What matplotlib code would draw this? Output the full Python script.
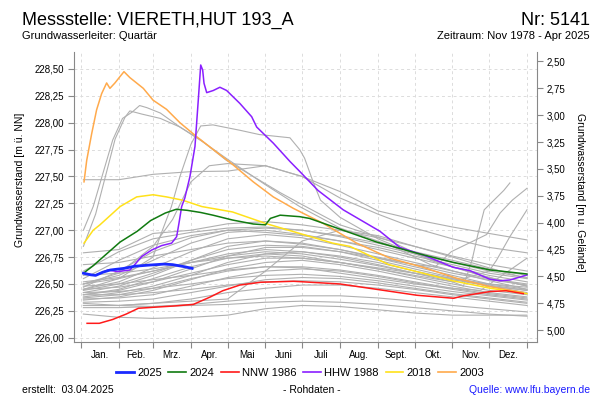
import matplotlib
matplotlib.use("Agg")
import matplotlib.pyplot as plt
from matplotlib.lines import Line2D
from matplotlib.ticker import FuncFormatter, FixedLocator

plt.rcParams['font.family'] = ['Liberation Sans', 'DejaVu Sans']

# ---------------- data ----------------
GROUND = 231.07  # Geländehöhe (m ü. NN) for the right axis

month_labels = ["Jan.", "Feb.", "Mrz.", "Apr.", "Mai", "Juni", "Juli",
                "Aug.", "Sept.", "Okt.", "Nov.", "Dez."]
month_starts = [0, 31, 59, 90, 120, 151, 181, 212, 243, 273, 304, 334, 365]

# colored highlight years (day of year, level m ü. NN)
y2025_days = [2, 8, 12, 18, 24, 35, 44, 55, 68, 75, 85, 91]
y2025_vals = [226.60, 226.585, 226.58, 226.61, 226.63, 226.645, 226.665,
              226.675, 226.685, 226.68, 226.66, 226.645]

y2024_days = [2, 10, 19, 32, 46, 57, 69, 78, 87, 98, 108, 124, 141, 151, 155,
              163, 179, 187, 212, 242, 275, 305, 335, 348, 365]
y2024_vals = [226.60, 226.67, 226.76, 226.89, 226.99, 227.09, 227.16, 227.195,
              227.185, 227.165, 227.14, 227.095, 227.058, 227.05, 227.11,
              227.14, 227.126, 227.11, 227.01, 226.89, 226.786, 226.70,
              226.63, 226.614, 226.593]

nnw1986_days = [5, 15, 26, 37, 47, 59, 76, 92, 106, 116, 130, 147, 174, 182,
                212, 242, 275, 305, 313, 335, 348, 362]
nnw1986_vals = [226.134, 226.134, 226.17, 226.22, 226.274, 226.283, 226.295,
                226.31, 226.38, 226.437, 226.49, 226.516, 226.525, 226.52,
                226.50, 226.45, 226.395, 226.367, 226.39, 226.43, 226.437,
                226.41]

hhw1988_days = [2.5, 11.5, 22, 30, 40, 44, 49.7, 57.9, 66, 74.2, 78.3, 80.2,
                82.4, 85, 89.2, 93.3, 96, 98, 99.6, 100.7, 102.9, 108.3, 113.7,
                119.2, 130, 139.7, 143.8, 157.4, 171, 179.2, 194, 214.6, 244.7,
                261, 280, 304.7, 318.3, 334.7, 343, 351, 365]
hhw1988_vals = [226.60, 226.58, 226.63, 226.615, 226.63, 226.68, 226.755,
                226.816, 226.857, 226.88, 226.94, 227.065, 227.22, 227.30,
                227.50, 227.78, 228.21, 228.537, 228.49, 228.367, 228.28,
                228.30, 228.33, 228.30, 228.18, 228.056, 227.96, 227.81,
                227.64, 227.545, 227.37, 227.19, 226.99, 226.84, 226.77,
                226.655, 226.624, 226.544, 226.53, 226.537, 226.584]

y2018_days = [2.5, 10, 15.5, 32, 45.6, 59, 70, 83, 99, 124, 152, 179, 206,
              220, 252, 280, 304, 335, 365]
y2018_vals = [226.88, 227.0, 227.05, 227.22, 227.31, 227.33, 227.31, 227.28,
              227.22, 227.17, 227.06, 226.97, 226.88, 226.85, 226.68, 226.60,
              226.53, 226.46, 226.41]

y2003_days = [2.5, 4.7, 8.8, 12.8, 16.9, 21, 23.7, 27.8, 32, 35.2, 40, 51, 59,
              70, 81, 94.7, 108.3, 124.6, 141, 157.4, 173.7, 198, 225.6,
              252.9, 280, 307.4, 334.7, 362]
y2003_vals = [227.45, 227.65, 227.90, 228.12, 228.27, 228.37, 228.32, 228.37,
              228.43, 228.475, 228.42, 228.32, 228.21, 228.125, 228.0, 227.87,
              227.75, 227.607, 227.45, 227.31, 227.204, 227.065, 226.88,
              226.74, 226.655, 226.553, 226.475, 226.42]

# other years (grey), monthly readings at grey_days
grey_days = [2, 31, 59, 90, 120, 151, 181, 212, 243, 273, 304, 334, 365]
grey_monthly = [
    [226.62, 226.80, 226.92, 226.98, 227.02, 227.03, 227.00, 226.95, 226.88, 226.80, 226.72, 226.64, 226.58],
    [226.55, 226.72, 226.86, 226.95, 227.00, 226.98, 226.95, 226.90, 226.84, 226.76, 226.68, 226.60, 226.55],
    [226.50, 226.58, 226.72, 226.88, 226.98, 227.00, 226.96, 226.90, 226.82, 226.74, 226.66, 226.58, 226.52],
    [226.45, 226.52, 226.65, 226.80, 226.92, 226.96, 226.93, 226.86, 226.78, 226.70, 226.62, 226.55, 226.50],
    [226.68, 226.70, 226.76, 226.82, 226.88, 226.90, 226.87, 226.82, 226.75, 226.68, 226.60, 226.54, 226.49],
    [226.42, 226.48, 226.58, 226.72, 226.85, 226.90, 226.88, 226.82, 226.74, 226.66, 226.58, 226.50, 226.45],
    [226.40, 226.44, 226.52, 226.64, 226.76, 226.84, 226.84, 226.80, 226.72, 226.64, 226.56, 226.49, 226.44],
    [226.52, 226.56, 226.62, 226.70, 226.78, 226.82, 226.80, 226.75, 226.68, 226.60, 226.54, 226.48, 226.44],
    [226.38, 226.42, 226.48, 226.58, 226.70, 226.78, 226.80, 226.76, 226.70, 226.62, 226.55, 226.48, 226.42],
    [226.45, 226.47, 226.52, 226.60, 226.68, 226.74, 226.74, 226.70, 226.64, 226.57, 226.50, 226.44, 226.40],
    [226.35, 226.38, 226.44, 226.54, 226.64, 226.70, 226.72, 226.68, 226.62, 226.55, 226.48, 226.42, 226.38],
    [226.48, 226.50, 226.54, 226.58, 226.63, 226.66, 226.66, 226.63, 226.58, 226.52, 226.46, 226.41, 226.37],
    [226.36, 226.37, 226.40, 226.48, 226.56, 226.62, 226.64, 226.62, 226.57, 226.51, 226.45, 226.40, 226.36],
    [226.42, 226.43, 226.46, 226.50, 226.55, 226.58, 226.59, 226.57, 226.53, 226.48, 226.43, 226.39, 226.35],
    [226.33, 226.34, 226.36, 226.42, 226.48, 226.54, 226.56, 226.55, 226.51, 226.46, 226.41, 226.37, 226.33],
    [226.40, 226.40, 226.42, 226.45, 226.49, 226.52, 226.53, 226.52, 226.49, 226.45, 226.40, 226.36, 226.32],
    [226.30, 226.30, 226.32, 226.36, 226.42, 226.46, 226.49, 226.49, 226.46, 226.42, 226.38, 226.34, 226.30],
    [226.28, 226.28, 226.29, 226.31, 226.34, 226.37, 226.39, 226.39, 226.37, 226.34, 226.30, 226.27, 226.24],
    [226.22, 226.19, 226.18, 226.19, 226.21, 226.27, 226.30, 226.29, 226.26, 226.23, 226.21, 226.21, 226.21],
    [226.32, 226.30, 226.29, 226.30, 226.31, 226.33, 226.34, 226.33, 226.31, 226.28, 226.25, 226.22, 226.20],
    [226.30, 226.30, 226.32, 226.34, 226.36, 226.62, 226.90, 227.00, 226.95, 226.85, 226.75, 226.65, 226.55],
    [226.79, 226.82, 226.97, 227.00, 227.06, 227.08, 227.05, 227.00, 226.93, 226.85, 226.76, 226.68, 226.62],
    [226.47, 226.62, 226.80, 226.93, 227.00, 227.02, 227.00, 226.94, 226.86, 226.78, 226.70, 226.62, 226.56],
    [226.58, 226.60, 226.64, 226.70, 226.74, 226.76, 226.74, 226.70, 226.65, 226.60, 226.55, 226.50, 226.47],
    [227.47, 227.47, 227.52, 227.545, 227.55, 227.60, 227.50, 227.36, 227.18, 227.10, 227.03, 226.97, 226.91],
]

grey_a_days = [2, 10, 18, 26, 34, 42, 48, 54, 65, 81, 98, 119, 141, 163, 179, 212, 253, 286, 327, 365]
grey_a_vals = [227.0, 227.22, 227.53, 227.84, 228.04, 228.10, 228.16, 228.14, 228.09, 227.96,
               227.84, 227.65, 227.50, 227.35, 227.25, 227.05, 226.90, 226.72, 226.58, 226.48]
grey_b_days = [2, 12, 20, 28, 36, 40, 50, 65, 81, 100, 120, 150, 179, 212, 253, 286, 327, 365]
grey_b_vals = [226.85, 227.15, 227.5, 227.85, 228.05, 228.11, 228.08, 228.04, 227.96, 227.82,
               227.66, 227.43, 227.22, 227.02, 226.86, 226.68, 226.55, 226.45]
grey_c_days = [2, 31, 59, 65, 74, 81, 90, 98, 108, 130, 146, 171, 179, 183, 190, 196, 212,
               243, 273, 304, 334, 365]
grey_c_vals = [226.45, 226.55, 226.75, 226.95, 227.22, 227.5, 227.8, 227.97, 227.98, 227.93,
               227.89, 227.86, 227.75, 227.67, 227.45, 227.28, 227.12, 226.92, 226.78, 226.66,
               226.56, 226.48]
grey_d_days = [2, 31, 59, 75, 90, 105, 120, 151, 181, 212, 243, 273, 304, 334, 365]
grey_d_vals = [226.5, 226.6, 226.85, 227.1, 227.45, 227.6, 227.62, 227.6, 227.5, 227.3,
               227.15, 227.02, 226.92, 226.84, 226.79]
grey_e_days = [2, 31, 59, 90, 120, 151, 181, 212, 243, 273, 304, 313, 320, 325, 330, 338, 346, 351]
grey_e_vals = [226.5, 226.55, 226.62, 226.7, 226.76, 226.8, 226.78, 226.73, 226.67, 226.6,
               226.52, 226.48, 226.72, 226.97, 227.19, 227.28, 227.37, 227.44]
grey_f_days = [2, 31, 59, 90, 120, 151, 181, 212, 243, 273, 290, 303, 332, 343, 353, 365]
grey_f_vals = [226.44, 226.5, 226.6, 226.72, 226.82, 226.86, 226.85, 226.8, 226.74, 226.68,
               226.66, 226.8, 226.96, 227.16, 227.28, 227.39]
grey_g_days = [2, 31, 59, 90, 120, 151, 181, 212, 243, 273, 304, 334, 340, 351, 365]
grey_g_vals = [226.4, 226.45, 226.55, 226.66, 226.74, 226.78, 226.76, 226.7, 226.64, 226.58,
               226.52, 226.62, 226.72, 226.94, 227.19]
grey_h_days = [2, 31, 59, 90, 120, 151, 181, 212, 243, 273, 304, 327, 365]
grey_h_vals = [226.37, 226.4, 226.46, 226.55, 226.62, 226.66, 226.65, 226.6, 226.55, 226.5,
               226.46, 226.44, 226.74]

# ---------------- figure ----------------
fig = plt.figure(figsize=(6, 4), dpi=100)
ax = fig.add_axes([74 / 600, 1 - 341.7 / 400, (537 - 74) / 600, (341.7 - 52) / 400])

GREY = '#b0b0b0'
for vals in grey_monthly:
    ax.plot(grey_days, vals, color=GREY, lw=0.8, zorder=2)
for d, v in [(grey_a_days, grey_a_vals), (grey_b_days, grey_b_vals),
             (grey_c_days, grey_c_vals), (grey_d_days, grey_d_vals),
             (grey_e_days, grey_e_vals), (grey_f_days, grey_f_vals),
             (grey_g_days, grey_g_vals), (grey_h_days, grey_h_vals)]:
    ax.plot(d, v, color=GREY, lw=0.8, zorder=2)

series = [
    ("2003", y2003_days, y2003_vals, '#ffaa4c', 1.1),
    ("2018", y2018_days, y2018_vals, '#ffe11a', 1.1),
    ("HHW 1988", hhw1988_days, hhw1988_vals, '#8a1fff', 1.1),
    ("NNW 1986", nnw1986_days, nnw1986_vals, '#ff1a1a', 1.1),
    ("2024", y2024_days, y2024_vals, '#107a10', 1.1),
    ("2025", y2025_days, y2025_vals, '#1a2aff', 2.0),
]
for lab, d, v, c, lw in series:
    ax.plot(d, v, color=c, lw=lw, zorder=3)

ylim = (225.963, 228.658)
ax.set_xlim(-5.7, 373.2)
ax.set_ylim(*ylim)

ax.set_yticks([226.0 + 0.25 * i for i in range(11)])
ax.yaxis.set_major_formatter(FuncFormatter(lambda v, p: f"{v:.2f}".replace('.', ',')))
ax.set_xticks(month_starts)
ax.set_xticklabels([])
mids = [(month_starts[i] + month_starts[i + 1]) / 2 for i in range(12)]
ax.xaxis.set_minor_locator(FixedLocator(mids))
ax.set_xticklabels(month_labels, minor=True)
ax.tick_params(axis='x', which='minor', length=0, pad=6, labelsize=7)
ax.tick_params(axis='x', which='major', length=4, color='#888888', direction='out')
ax.tick_params(axis='y', length=4, color='#888888', labelsize=7, pad=3)

ax.grid(True, which='major', color='#dcdcdc', lw=0.7, ls=(0, (3, 3)))
ax.set_axisbelow(True)

for s in ['top', 'right']:
    ax.spines[s].set_visible(False)
for s in ['left', 'bottom']:
    ax.spines[s].set_color('#888888')

ax2 = ax.twinx()
ax2.set_ylim(GROUND - ylim[0], GROUND - ylim[1])
ax2.set_yticks([2.5 + 0.25 * i for i in range(11)])
ax2.yaxis.set_major_formatter(FuncFormatter(lambda v, p: f"{v:.2f}".replace('.', ',')))
ax2.tick_params(axis='y', length=4, color='#888888', labelsize=7, pad=3)
for s in ['top', 'left', 'bottom']:
    ax2.spines[s].set_visible(False)
ax2.spines['right'].set_color('#888888')

# axis labels
fig.text(20 / 600, 1 - 180 / 400, "Grundwasserstand [m ü. NN]", rotation=90,
         ha='center', va='center', fontsize=7.5)
fig.text(580 / 600, 1 - 192 / 400, "Grundwasserstand [m u. Gelände]", rotation=270,
         ha='center', va='center', fontsize=7.5)

# header
fig.text(22 / 600, 1 - 25 / 400, "Messstelle: VIERETH,HUT 193_A", fontsize=13,
         ha='left', va='baseline')
fig.text(590 / 600, 1 - 25 / 400, "Nr: 5141", fontsize=13, ha='right', va='baseline')
fig.text(22 / 600, 1 - 39 / 400, "Grundwasserleiter: Quartär", fontsize=8,
         ha='left', va='baseline')
fig.text(590 / 600, 1 - 39 / 400, "Zeitraum: Nov 1978 - Apr 2025", fontsize=8,
         ha='right', va='baseline')

# legend
leg_order = ["2025", "2024", "NNW 1986", "HHW 1988", "2018", "2003"]
cmap = {lab: c for lab, d, v, c, lw in series}
handles = [Line2D([], [], color=cmap[l], lw=2.0 if l == "2025" else 1.2) for l in leg_order]
fig.legend(handles, leg_order, loc='center', bbox_to_anchor=(0.5, 1 - 373 / 400),
           ncol=6, frameon=False, fontsize=8, handlelength=1.6,
           handletextpad=0.3, columnspacing=0.6)

# footer
fig.text(22 / 600, 1 - 390 / 400, "erstellt:  03.04.2025", fontsize=7.5, ha='left', va='center')
fig.text(312 / 600, 1 - 390 / 400, "- Rohdaten -", fontsize=7.5, ha='center', va='center')
fig.text(590 / 600, 1 - 390 / 400, "Quelle: www.lfu.bayern.de", fontsize=7.5,
         ha='right', va='center', color='#1a1aff')

fig.savefig("out.png", dpi=100)
